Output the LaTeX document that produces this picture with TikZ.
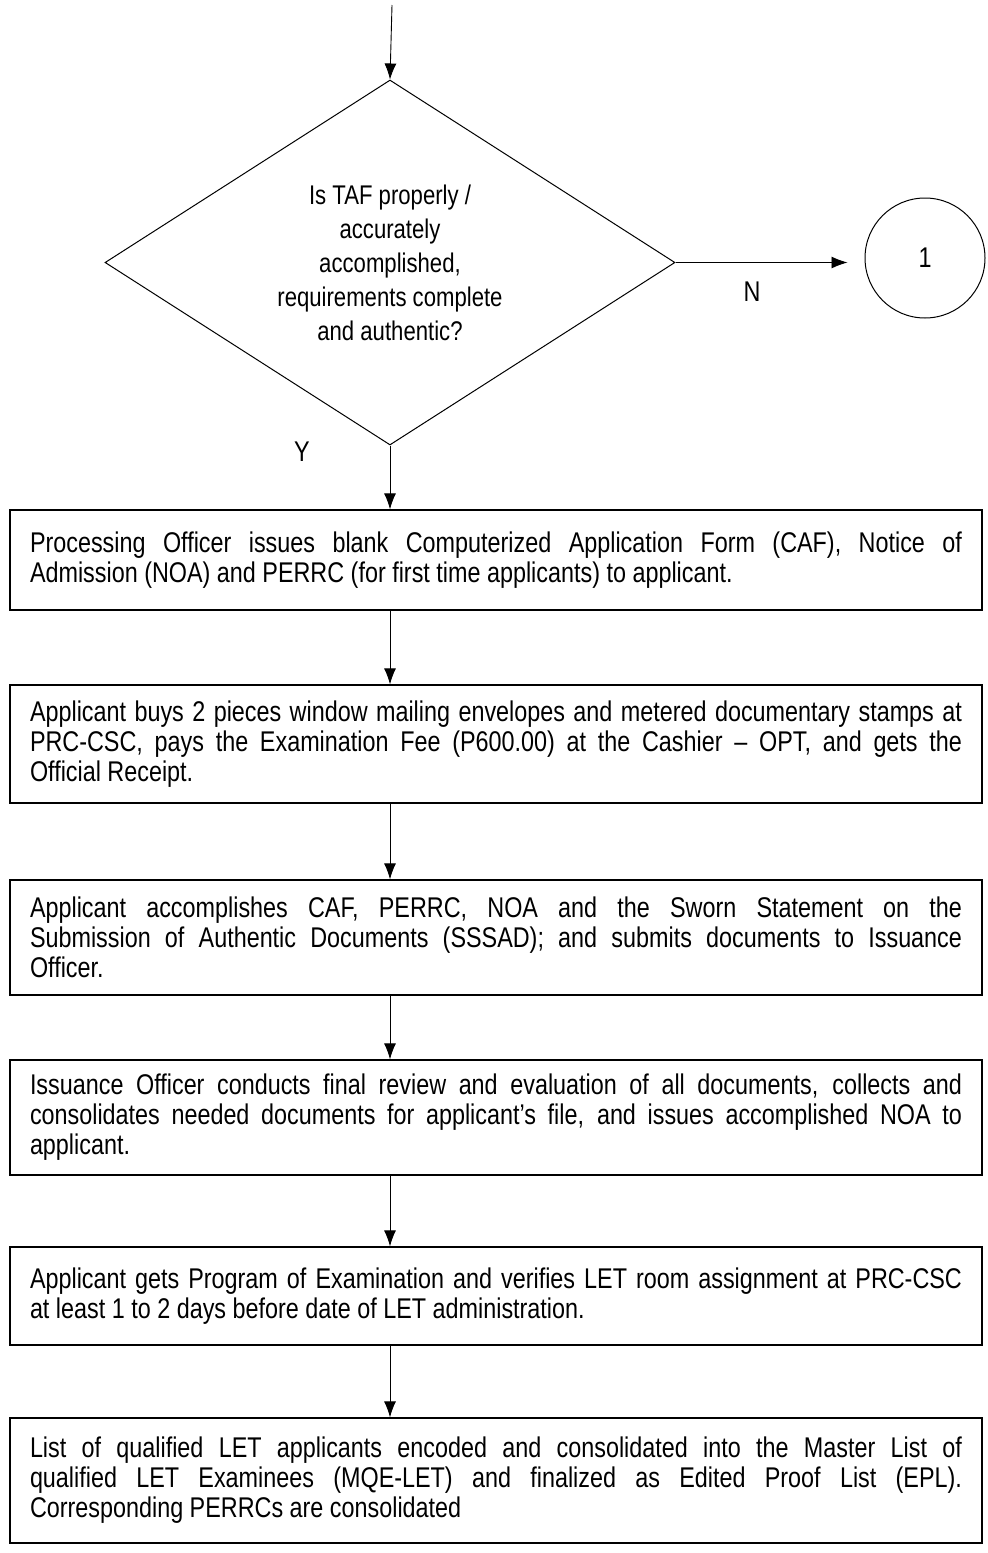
\documentclass[tikz,border=0pt]{standalone}
\usepackage{fontspec}
\setmainfont[FakeStretch=0.82,Ligatures=TeX]{Liberation Sans}
\usetikzlibrary{shapes.geometric,arrows.meta}
\begin{document}
\begin{tikzpicture}[x=1pt,y=-1pt,
  every node/.style={font=\fontsize{28.5}{30}\selectfont},
  stepbox/.style={draw,line width=1.3pt,text width=932pt,inner xsep=20pt,inner ysep=0pt,
    align=justify,execute at begin node={\hyphenpenalty=10000\exhyphenpenalty=10000}},
  decision/.style={draw,diamond,line width=1pt,inner sep=0pt,minimum width=570pt,
    minimum height=365pt,aspect=1.56},
  connector/.style={draw,circle,line width=1pt,minimum size=120pt,inner sep=0pt},
  flow/.style={line width=0.9pt,-{Latex[length=16pt,width=12pt]}}]
\useasboundingbox (0,0) rectangle (988,1553);

% decision and off-page connector
\coordinate (in) at (392,5);
\node[decision,align=center,font=\fontsize{27}{34}\selectfont] (dec) at (390,262.5)
  {Is TAF properly /\\accurately\\accomplished,\\requirements complete\\and authentic?};
\node[connector] (c1) at (925,258) {1};

% process steps
\node[stepbox,minimum height=100pt] (b1) at (496,560)
  {Processing Officer issues blank Computerized Application Form (CAF), Notice of\linebreak
   Admission (NOA) and PERRC (for first time applicants) to applicant.};
\node[stepbox,minimum height=118pt] (b2) at (496,744)
  {Applicant buys 2 pieces window mailing envelopes and metered documentary stamps at\linebreak
   PRC-CSC, pays the Examination Fee (P600.00) at the Cashier -- OPT, and gets the\linebreak
   Official Receipt.};
\node[stepbox,minimum height=115pt] (b3) at (496,937.5)
  {Applicant accomplishes CAF, PERRC, NOA and the Sworn Statement on the\linebreak
   Submission of Authentic Documents (SSSAD); and submits documents to Issuance\linebreak
   Officer.};
\node[stepbox,minimum height=115pt] (b4) at (496,1117.5)
  {Issuance Officer conducts final review and evaluation of all documents, collects and\linebreak
   consolidates needed documents for applicant's file, and issues accomplished NOA to\linebreak
   applicant.};
\node[stepbox,minimum height=98pt] (b5) at (496,1296)
  {Applicant gets Program of Examination and verifies LET room assignment at PRC-CSC\linebreak
   at least 1 to 2 days before date of LET administration.};
\node[stepbox,minimum height=125pt] (b6) at (496,1480.5)
  {List of qualified LET applicants encoded and consolidated into the Master List of\linebreak
   qualified LET Examinees (MQE-LET) and finalized as Edited Proof List (EPL).\linebreak
   Corresponding PERRCs are consolidated};

% connectors
\draw[flow] (in) -- (dec.north);
\draw[flow,shorten >=17pt] (dec.east) -- (dec.east -| c1.west);
\node (n) at (752,292) {N};
\node (y) at (302,452) {Y};
\draw[flow] (dec.south) -- (dec.south |- b1.north);
\draw[flow] (b1.south -| dec.south) -- (b2.north -| dec.south);
\draw[flow] (b2.south -| dec.south) -- (b3.north -| dec.south);
\draw[flow] (b3.south -| dec.south) -- (b4.north -| dec.south);
\draw[flow] (b4.south -| dec.south) -- (b5.north -| dec.south);
\draw[flow] (b5.south -| dec.south) -- (b6.north -| dec.south);
\end{tikzpicture}
\end{document}
